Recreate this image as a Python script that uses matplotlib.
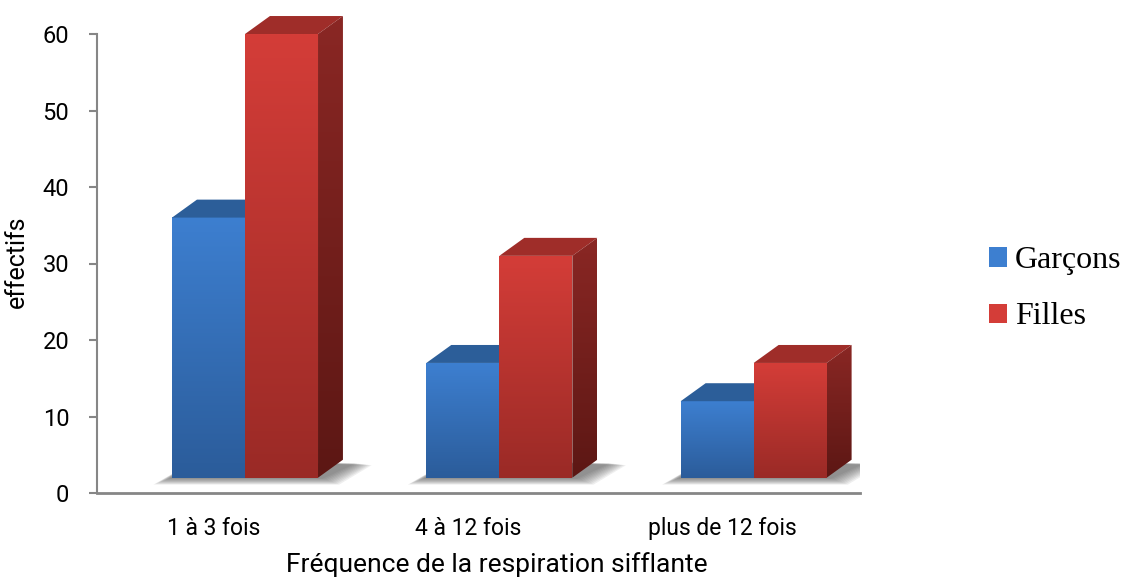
import numpy as np
import matplotlib
matplotlib.use('Agg')
import matplotlib.pyplot as plt
from matplotlib.patches import Polygon, Patch
from matplotlib.colors import LinearSegmentedColormap

categories = ['1 à 3 fois', '4 à 12 fois', 'plus de 12 fois']
series_names = ['Garçons', 'Filles']
garcons = [36, 17, 12]
filles = [60, 31, 17]
yticks = [0, 10, 20, 30, 40, 50, 60]

sans = ['Roboto', 'DejaVu Sans']
serif = ['Liberation Serif', 'DejaVu Serif']

# colours: front top, front bottom, top face, side top, side bottom
blue = dict(front=('#3d7fd0', '#2b5c9a'), top='#2c5e99', side=('#24497a', '#1b3960'))
red = dict(front=('#d43d38', '#9a2a26'), top='#9f2d29', side=('#8a2724', '#5c1714'))

fig = plt.figure(figsize=(11.21, 5.79), dpi=100)
ax = fig.add_axes([97 / 1121, 86 / 579, 763 / 1121, 489.6 / 579])

bar_w = 0.287
first = 0.295
dx, dy = 0.098, 2.35     # depth of the pseudo-3D boxes
base = 2.0               # floor height of the front faces


def grad_cmap(c1, c2):
    return LinearSegmentedColormap.from_list('g', [c2, c1])


def draw_box(x0, top, col, z):
    grad = np.linspace(0, 1, 256).reshape(-1, 1)
    # front face
    ax.imshow(grad, extent=[x0, x0 + bar_w, base, top], origin='lower',
              aspect='auto', cmap=grad_cmap(*col['front']), zorder=z)
    # top face
    ax.add_patch(Polygon([(x0, top), (x0 + bar_w, top), (x0 + bar_w + dx, top + dy),
                          (x0 + dx, top + dy)], closed=True, facecolor=col['top'],
                         edgecolor='none', zorder=z))
    # right side face with a vertical gradient
    side = Polygon([(x0 + bar_w, base), (x0 + bar_w + dx, base + dy),
                    (x0 + bar_w + dx, top + dy), (x0 + bar_w, top)], closed=True,
                   facecolor='none', edgecolor='none', zorder=z)
    ax.add_patch(side)
    im = ax.imshow(grad, extent=[x0 + bar_w, x0 + bar_w + dx, base, top + dy],
                   origin='lower', aspect='auto', cmap=grad_cmap(*col['side']), zorder=z)
    im.set_clip_path(side)


def draw_shadow(xl, xr):
    # soft floor shadow built from stacked translucent layers
    for k in range(10):
        s = 0.007 * k
        sy = 0.09 * k
        ax.add_patch(Polygon([(xl - 0.01 - s, base - 0.1 - sy), (xr + 0.02 + s, base - 0.1 - sy),
                              (xr + dx + 0.05 + s, base + dy * 0.8 - sy * 0.3),
                              (xl + dx, base + dy)],
                             closed=True, facecolor='#505050', alpha=0.09,
                             edgecolor='none', zorder=1))


for i in range(len(categories)):
    xb = i + first
    xr = xb + bar_w
    draw_shadow(xb, xr + bar_w)
    draw_box(xb, garcons[i], blue, 2 + 2 * i)
    draw_box(xr, filles[i], red, 3 + 2 * i)

ax.set_xlim(0, 3)
ax.set_ylim(0, 64)

for s in ['top', 'right']:
    ax.spines[s].set_visible(False)
ax.spines['left'].set_bounds(0, 60)
ax.spines['left'].set_color('#868686')
ax.spines['left'].set_linewidth(1.5)
ax.spines['bottom'].set_color('#868686')
ax.spines['bottom'].set_linewidth(2)

ax.set_yticks(yticks)
ax.set_xticks([i + 0.46 for i in range(len(categories))])
ax.set_xticklabels(categories)
ax.tick_params(axis='y', direction='out', length=6, width=1.5, color='#868686',
               labelsize=17, pad=14)
ax.tick_params(axis='x', length=0, labelsize=16.5, pad=17)
for lab in ax.get_xticklabels() + ax.get_yticklabels():
    lab.set_family(sans)

ax.set_ylabel('effectifs', fontsize=18, family=sans, va='center')
ax.yaxis.set_label_coords(-0.105, 0.472)
ax.set_xlabel('Fréquence de la respiration sifflante', fontsize=19, family=sans,
              va='baseline')
ax.xaxis.set_label_coords(0.5236, -0.161)

handles = [Patch(facecolor=blue['front'][0], edgecolor='none'),
           Patch(facecolor=red['front'][0], edgecolor='none')]
fig.legend(handles, series_names, loc='center left', bbox_to_anchor=(0.857, 0.501),
           frameon=False, prop={'family': serif, 'size': 23},
           handlelength=0.55, handleheight=0.55, handletextpad=0.25, labelspacing=0.85)

fig.savefig('out.png', dpi=100)
